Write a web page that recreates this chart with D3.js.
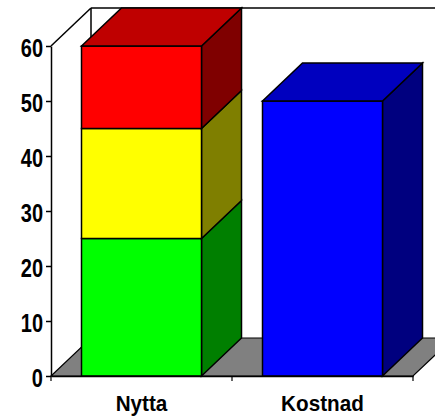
<!DOCTYPE html>
<html>
<head>
<meta charset="utf-8">
<script src="https://cdn.jsdelivr.net/npm/d3@7"></script>
<style>
body { margin: 0; background: #fff; }
svg { display: block; }
.face { stroke: #000; stroke-width: 1.5; stroke-linejoin: miter; }
text { font-family: "Liberation Sans", Arial, sans-serif; font-weight: bold; fill: #000; }
</style>
</head>
<body>
<svg width="435" height="416"></svg>
<script>
var categories = ["Nytta", "Kostnad"];
var seriesNames = ["low", "mid", "high", "cost"];
var nytta = [25, 20, 15, 0];
var kostnad = [0, 0, 0, 50];
var yTicks = [0, 10, 20, 30, 40, 50, 60];

var frontColors = ["#00ff00", "#ffff00", "#ff0000", "#0000ff"];
var topColors = ["#00bf00", "#bfbf00", "#bf0000", "#0000bf"];
var sideColors = ["#007f00", "#7f7f00", "#7f0000", "#00007f"];

// depth of the fake 3d box
var dx = 40, dy = -38;

var svg = d3.select("svg");

var x = d3.scaleBand().domain(categories).range([51, 413]).paddingInner(61 / 181).paddingOuter(30.5 / 181);
var y = d3.scaleLinear().domain([0, 60]).range([376, 46]);

function poly(points) {
    return points.map(function(p) { return p.join(","); }).join(" ");
}

// back walls and floor
var y0 = y(0), y60 = y(60), xl = x.range()[0], xr = x.range()[1];

svg.append("polygon")
    .attr("points", poly([[xl, y0], [xl + dx, y0 + dy], [xr + dx, y0 + dy], [xr, y0]]))
    .attr("fill", "#808080")
    .attr("stroke", "#000")
    .attr("stroke-width", 1.2);

svg.append("line")
    .attr("x1", xl).attr("y1", y60).attr("x2", xl + dx).attr("y2", y60 + dy)
    .attr("stroke", "#000").attr("stroke-width", 1.5);
svg.append("line")
    .attr("x1", xl + dx).attr("y1", y60 + dy).attr("x2", xl + dx).attr("y2", y0 + dy)
    .attr("stroke", "#000").attr("stroke-width", 1.5);
svg.append("line")
    .attr("x1", xl + dx).attr("y1", y60 + dy).attr("x2", 435).attr("y2", y60 + dy)
    .attr("stroke", "#000").attr("stroke-width", 1.5);

// stacks
var rows = seriesNames.map(function(name, i) {
    return { name: name, Nytta: nytta[i], Kostnad: kostnad[i] };
});

categories.forEach(function(cat) {
    var b = x(cat), w = x.bandwidth();
    var g = svg.append("g").attr("class", "bar");
    var segs = rows.map(function(r, i) {
        var run = 0;
        for (var k = 0; k < i; k++) { run += rows[k][cat]; }
        return { i: i, from: run, to: run + r[cat] };
    }).filter(function(s) { return s.to > s.from; });

    segs.forEach(function(s) {
        var t = y(s.to), f = y(s.from);
        g.append("polygon").attr("class", "face")
            .attr("points", poly([[b + w, f], [b + w + dx, f + dy], [b + w + dx, t + dy], [b + w, t]]))
            .attr("fill", sideColors[s.i]);
        g.append("rect").attr("class", "face")
            .attr("x", b).attr("y", t).attr("width", w).attr("height", f - t)
            .attr("fill", frontColors[s.i]);
    });
    var last = segs[segs.length - 1], t = y(last.to);
    g.append("polygon").attr("class", "face")
        .attr("points", poly([[b, t], [b + dx, t + dy], [b + w + dx, t + dy], [b + w, t]]))
        .attr("fill", topColors[last.i]);
});

// axes
var yAxis = svg.append("g")
    .attr("transform", "translate(" + xl + ",0)")
    .call(d3.axisLeft(y).tickValues(yTicks).tickSize(5).tickSizeOuter(0));
yAxis.selectAll("text")
    .attr("x", 0)
    .attr("dy", "0.36em")
    .attr("transform", "translate(-8,1) scale(0.8,1)")
    .style("font-family", "'Liberation Sans',sans-serif")
    .style("font-weight", "bold")
    .style("font-size", "25px")
    .attr("fill", "#000");
yAxis.selectAll("line, path").attr("stroke", "#000").attr("stroke-width", 1.5);

var xAxis = svg.append("g")
    .attr("transform", "translate(0," + y0 + ")")
    .call(d3.axisBottom(x).tickSize(0).tickSizeOuter(0));
xAxis.selectAll("text")
    .attr("y", 35)
    .attr("dy", 0)
    .attr("transform", "scale(0.92,1)")
    .style("font-family", "'Liberation Sans',sans-serif")
    .style("font-weight", "bold")
    .style("font-size", "22.5px")
    .attr("fill", "#000");
xAxis.selectAll("path").attr("stroke", "#000").attr("stroke-width", 1.5);

// ticks sit between the categories
var edges = [xl, xl + x.step(), xl + 2 * x.step()];
xAxis.selectAll("line.edge")
    .data(edges)
    .enter()
    .append("line")
    .attr("class", "edge")
    .attr("x1", function(d) { return d; })
    .attr("x2", function(d) { return d; })
    .attr("y1", 0)
    .attr("y2", 5)
    .attr("stroke", "#000")
    .attr("stroke-width", 1.2);
</script>
</body>
</html>
